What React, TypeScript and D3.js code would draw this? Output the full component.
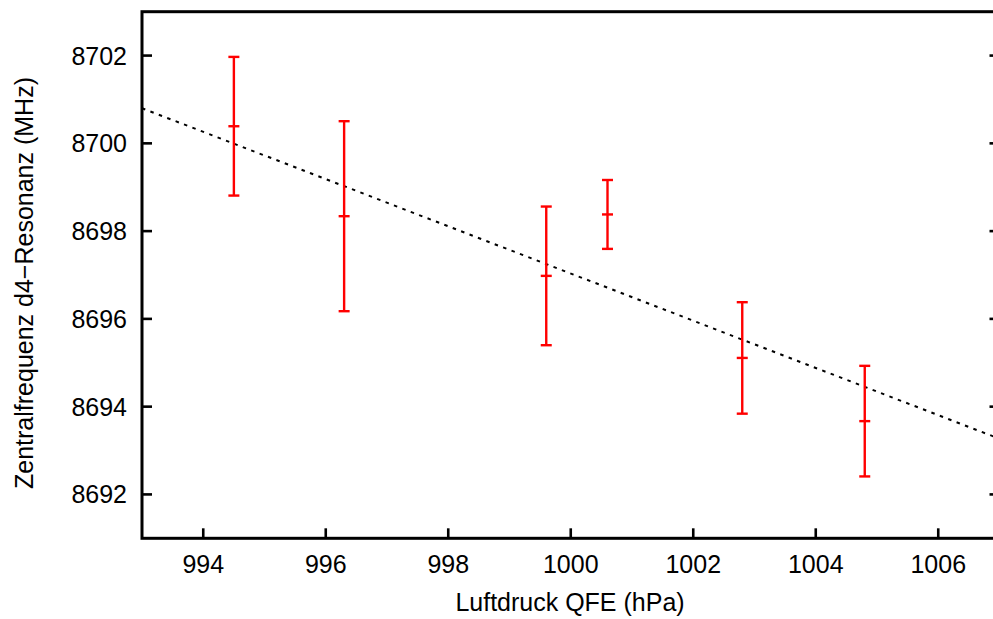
import React from "react";
import * as d3 from "d3";

// Measurements: air pressure (hPa) vs. resonance centre frequency (MHz)
const pressure = [994.5, 996.3, 999.6, 1000.6, 1002.8, 1004.8];
const frequency = [8700.39, 8698.34, 8696.98, 8698.38, 8695.11, 8693.67];
const frequencyError = [1.58, 2.165, 1.58, 0.785, 1.27, 1.26];

// Linear fit f(p) = fitIntercept + fitSlope * (p - fitRef)
const fitRef = 993;
const fitIntercept = 8700.8;
const fitSlope = -0.538;

const xTicks = [994, 996, 998, 1000, 1002, 1004, 1006];
const yTicks = [8692, 8694, 8696, 8698, 8700, 8702];

const xDomain: [number, number] = [993, 1007];
const yDomain: [number, number] = [8691, 8703];

const W = 993;
const H = 619;
const left = 142;
const right = 999.5;
const top = 11.7;
const bottom = 538.3;
const font = "'Liberation Sans', Arial, Helvetica, sans-serif";

export default function App() {
  const x = d3.scaleLinear().domain(xDomain).range([left, right]);
  const y = d3.scaleLinear().domain(yDomain).range([bottom, top]);

  const fitLine = d3
    .line<number>()
    .x((p) => x(p))
    .y((p) => y(fitIntercept + fitSlope * (p - fitRef)));

  const capHalf = 5.5;
  const tickLen = 10;

  return (
    <svg
      width={W}
      height={H}
      style={{ position: "absolute", left: 0, top: 0, background: "#fff" }}
    >
      <defs>
        <clipPath id="plot-area">
          <rect x={left} y={top} width={right - left} height={bottom - top} />
        </clipPath>
      </defs>

      {/* fit line */}
      <path
        d={fitLine(xDomain) || ""}
        clipPath="url(#plot-area)"
        fill="none"
        stroke="#000"
        strokeWidth={2}
        strokeDasharray="3.5 5.5"
      />

      {/* error bars */}
      {pressure.map((p, i) => {
        const cx = x(p);
        const yc = y(frequency[i]);
        const y0 = y(frequency[i] + frequencyError[i]);
        const y1 = y(frequency[i] - frequencyError[i]);
        return (
          <g key={i} stroke="#ff0000" strokeWidth={2.4}>
            <line x1={cx} x2={cx} y1={y0} y2={y1} />
            <line x1={cx - capHalf} x2={cx + capHalf} y1={y0} y2={y0} />
            <line x1={cx - capHalf} x2={cx + capHalf} y1={y1} y2={y1} />
            <line x1={cx - capHalf} x2={cx + capHalf} y1={yc} y2={yc} />
          </g>
        );
      })}

      {/* ticks */}
      <g stroke="#000" strokeWidth={2.6}>
        {yTicks.map((t) => (
          <React.Fragment key={t}>
            <line x1={left} x2={left + tickLen} y1={y(t)} y2={y(t)} />
            <line x1={right - tickLen} x2={right} y1={y(t)} y2={y(t)} />
          </React.Fragment>
        ))}
        {xTicks.map((t) => (
          <line key={t} x1={x(t)} x2={x(t)} y1={bottom} y2={bottom - tickLen} />
        ))}
      </g>

      {/* frame */}
      <rect
        x={left}
        y={top}
        width={right - left}
        height={bottom - top}
        fill="none"
        stroke="#000"
        strokeWidth={3}
      />

      {/* tick labels */}
      <g fontFamily={font} fontSize={25} fill="#000">
        {yTicks.map((t) => (
          <text key={t} x={127} y={y(t)} dy="0.36em" textAnchor="end">
            {t}
          </text>
        ))}
        {xTicks.map((t) => (
          <text key={t} x={x(t)} y={573} textAnchor="middle">
            {t}
          </text>
        ))}
      </g>

      {/* axis titles */}
      <text
        x={570}
        y={611}
        textAnchor="middle"
        fontFamily={font}
        fontSize={25}
        fill="#000"
      >
        Luftdruck QFE (hPa)
      </text>
      <text
        transform={`translate(33, 283) rotate(-90)`}
        textAnchor="middle"
        fontFamily={font}
        fontSize={25}
        fill="#000"
      >
        Zentralfrequenz d4−Resonanz (MHz)
      </text>
    </svg>
  );
}
